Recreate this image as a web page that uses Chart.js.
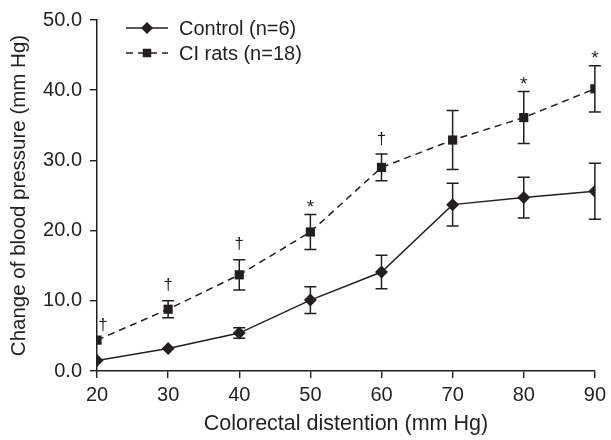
<!doctype html>
<html>
  <head>
    <title>Colorectal distention</title>
    <script src="https://cdn.jsdelivr.net/npm/chart.js"></script>
    <style>
      body {
        margin: 0;
        background: #fff;
      }
      .chart-box {
        width: 611px;
        height: 440px;
      }
    </style>
  </head>
  <body>
    <div class="chart-box"><canvas id="bpChart"></canvas></div>

    <script>
      const distention = [20, 30, 40, 50, 60, 70, 80, 90];
      const controlMean = [1.5, 3.2, 5.4, 10.1, 14.1, 23.7, 24.7, 25.6];
      const controlErr = [0, 0, 0.75, 1.9, 2.4, 3.05, 2.9, 4.0];
      const ciMean = [4.4, 8.8, 13.7, 19.8, 29.0, 32.9, 36.1, 40.2];
      const ciErr = [0, 1.2, 2.15, 2.5, 1.9, 4.2, 3.7, 3.3];
      const ciMarks = ['†', '†', '†', '*', '†', '', '*', '*'];
      const seriesNames = ['Control (n=6)', 'CI rats (n=18)'];

      const ink = '#231f20';
      const fontFamily = "'Liberation Sans', Arial, sans-serif";

      const toPoints = (xs, ys) => xs.map((x, i) => ({ x: x, y: ys[i] }));

      function markerPath(ctx, style, x, y, r) {
        ctx.beginPath();
        if (style === 'rectRot') {
          ctx.moveTo(x, y - r);
          ctx.lineTo(x + r, y);
          ctx.lineTo(x, y + r);
          ctx.lineTo(x - r, y);
        } else {
          const s = r * Math.SQRT1_2;
          ctx.rect(x - s, y - s, 2 * s, 2 * s);
        }
        ctx.closePath();
        ctx.fill();
      }

      // error bars, significance marks and the legend
      const extras = {
        id: 'extras',
        afterDatasetsDraw(chart) {
          const ctx = chart.ctx;
          const xs = chart.scales.x;
          const ys = chart.scales.y;
          const errs = [controlErr, ciErr];
          ctx.save();
          ctx.strokeStyle = ink;
          ctx.lineWidth = 1.5;
          chart.data.datasets.forEach((ds, d) => {
            ds.data.forEach((p, i) => {
              if (!errs[d][i]) return;
              const px = xs.getPixelForValue(p.x);
              const top = ys.getPixelForValue(p.y + errs[d][i]);
              const bot = ys.getPixelForValue(p.y - errs[d][i]);
              ctx.beginPath();
              ctx.moveTo(px, top);
              ctx.lineTo(px, bot);
              ctx.moveTo(px - 6, top);
              ctx.lineTo(px + 6, top);
              ctx.moveTo(px - 6, bot);
              ctx.lineTo(px + 6, bot);
              ctx.stroke();
            });
          });

          // significance marks above the CI error bars
          ctx.fillStyle = ink;
          ctx.textAlign = 'center';
          ctx.textBaseline = 'alphabetic';
          ciMarks.forEach((m, i) => {
            if (!m) return;
            let px = xs.getPixelForValue(distention[i]);
            const top = ys.getPixelForValue(ciMean[i] + ciErr[i]);
            if (distention[i] === xs.min) px += 6;
            ctx.font = (m === '*' ? '19px ' : '17px ') + fontFamily;
            const tm = ctx.measureText(m);
            const center = top - (m === '*' ? 11 : 16);
            const base = center + (tm.actualBoundingBoxAscent - tm.actualBoundingBoxDescent) / 2;
            ctx.fillText(m, px, base);
          });

          // legend
          ctx.font = '20px ' + fontFamily;
          ctx.textAlign = 'left';
          ctx.textBaseline = 'middle';
          chart.data.datasets.forEach((ds, d) => {
            const y = 28 + d * 25;
            ctx.lineWidth = ds.borderWidth;
            ctx.setLineDash(ds.borderDash || []);
            ctx.beginPath();
            ctx.moveTo(126, y);
            ctx.lineTo(168, y);
            ctx.stroke();
            ctx.setLineDash([]);
            ctx.fillStyle = ink;
            markerPath(ctx, ds.pointStyle, 147, y, ds.pointRadius - 0.5);
            ctx.fillText(ds.label, 179, y + 1);
          });
          ctx.restore();
        },
      };

      new Chart(document.getElementById('bpChart'), {
        type: 'line',
        data: {
          datasets: [
            {
              label: seriesNames[0],
              data: toPoints(distention, controlMean),
              borderColor: ink,
              backgroundColor: ink,
              borderWidth: 1.5,
              pointStyle: 'rectRot',
              pointRadius: 6.5,
              pointBorderWidth: 0,
            },
            {
              label: seriesNames[1],
              data: toPoints(distention, ciMean),
              borderColor: ink,
              backgroundColor: ink,
              borderWidth: 1.5,
              borderDash: [7, 5],
              pointStyle: 'rect',
              pointRadius: 6.5,
              pointBorderWidth: 0,
            },
          ],
        },
        options: {
          responsive: true,
          maintainAspectRatio: false,
          animation: false,
          layout: { padding: { top: 19, right: 14, left: 0, bottom: 0 } },
          plugins: {
            legend: { display: false },
            tooltip: { enabled: false },
          },
          scales: {
            x: {
              type: 'linear',
              min: 20,
              max: 90,
              afterFit: (s) => { s.height = 69; },
              ticks: { stepSize: 10, color: ink, padding: 5, font: { family: fontFamily, size: 20 } },
              grid: { drawOnChartArea: false, tickLength: 7, color: ink, lineWidth: 1.4 },
              border: { color: ink, width: 1.5 },
              title: {
                display: true,
                text: 'Colorectal distention (mm Hg)',
                color: ink,
                font: { family: fontFamily, size: 21.5 },
                padding: { top: 0, bottom: 3 },
              },
            },
            y: {
              min: 0,
              max: 50,
              afterFit: (s) => { s.width = 97; },
              ticks: {
                stepSize: 10,
                color: ink,
                padding: 8,
                font: { family: fontFamily, size: 20 },
                callback: (v) => v.toFixed(1),
              },
              grid: { drawOnChartArea: false, tickLength: 7, color: ink, lineWidth: 1.4 },
              border: { color: ink, width: 1.5 },
              title: {
                display: true,
                text: 'Change of blood pressure (mm Hg)',
                color: ink,
                font: { family: fontFamily, size: 20.5 },
                padding: { top: 7, bottom: 0 },
              },
            },
          },
        },
        plugins: [extras],
      });
    </script>
  </body>
</html>
